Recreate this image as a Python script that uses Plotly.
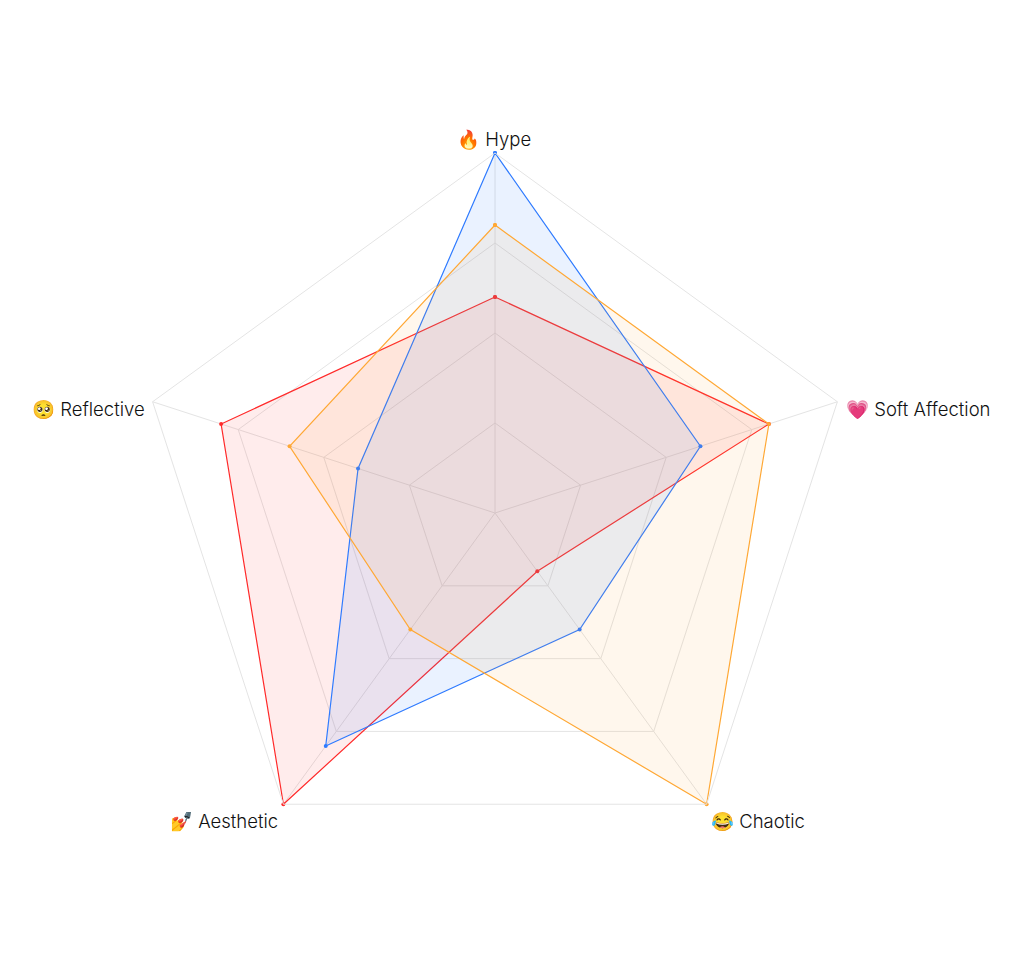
"""Radar chart of five vibe categories for three series."""
import plotly.graph_objects as go

categories = ["🔥 Hype", "💗 Soft Affection", "😂 Chaotic", "💅 Aesthetic", "🥺 Reflective"]
series_blue = [100, 60, 40, 80, 40]
series_orange = [80, 80, 100, 40, 60]
series_red = [60, 80, 20, 100, 80]
radial_ticks = [25, 50, 75, 100]

_FONT = "'Inter Light', Inter, 'Noto Sans', sans-serif"
_GRID = "#e4e4e4"
_W, _H = 1024, 960
# the page body adds an 8 px margin, so these are page pixels minus 8
_CX, _CY, _R = 487, 505, 360
# label anchor in page pixels: x, y, xanchor
_LABEL_POS = [(494, 139, "center"), (844, 409, "left"), (758, 821, "center"),
              (224, 821, "center"), (147, 409, "right")]

fig = go.Figure()
for values, color, fill in [
    (series_red, "#ff2a2a", "rgba(255,42,42,0.09)"),
    (series_blue, "#2f7bff", "rgba(47,123,255,0.10)"),
    (series_orange, "#ffa835", "rgba(255,168,53,0.09)"),
]:
    fig.add_trace(go.Scatterpolar(
        r=values + values[:1],
        theta=categories + categories[:1],
        mode="lines+markers",
        fill="toself", fillcolor=fill,
        line=dict(color=color, width=1.2),
        marker=dict(color=color, size=4),
        showlegend=False,
    ))

# labels sit on annotations: the tick labels cannot be nudged per category
for label, (px, py, anchor) in zip(categories, _LABEL_POS):
    fig.add_annotation(
        text=label, xref="paper", yref="paper",
        x=(px - 8) / _W, y=1 - (py - 8) / _H,
        xanchor=anchor, yanchor="middle", showarrow=False,
        font=dict(size=18.5, family=_FONT, weight=300, color="#111111"),
    )

fig.update_layout(
    width=_W, height=_H,
    margin=dict(l=0, r=0, t=0, b=0),
    paper_bgcolor="white",
    font=dict(family=_FONT, color="#111111"),
    polar=dict(
        bgcolor="white",
        gridshape="linear",
        domain=dict(x=[(_CX - _R) / _W, (_CX + _R) / _W],
                    y=[1 - (_CY + _R) / _H, 1 - (_CY - _R) / _H]),
        radialaxis=dict(range=[0, 100], tickvals=radial_ticks, showticklabels=False,
                        ticks="", showline=False, gridcolor=_GRID, gridwidth=1),
        angularaxis=dict(direction="clockwise", rotation=90, ticks="", showticklabels=False,
                         showline=True, linecolor=_GRID, linewidth=1,
                         gridcolor=_GRID, gridwidth=1),
    ),
)

fig.write_html("out.html")
